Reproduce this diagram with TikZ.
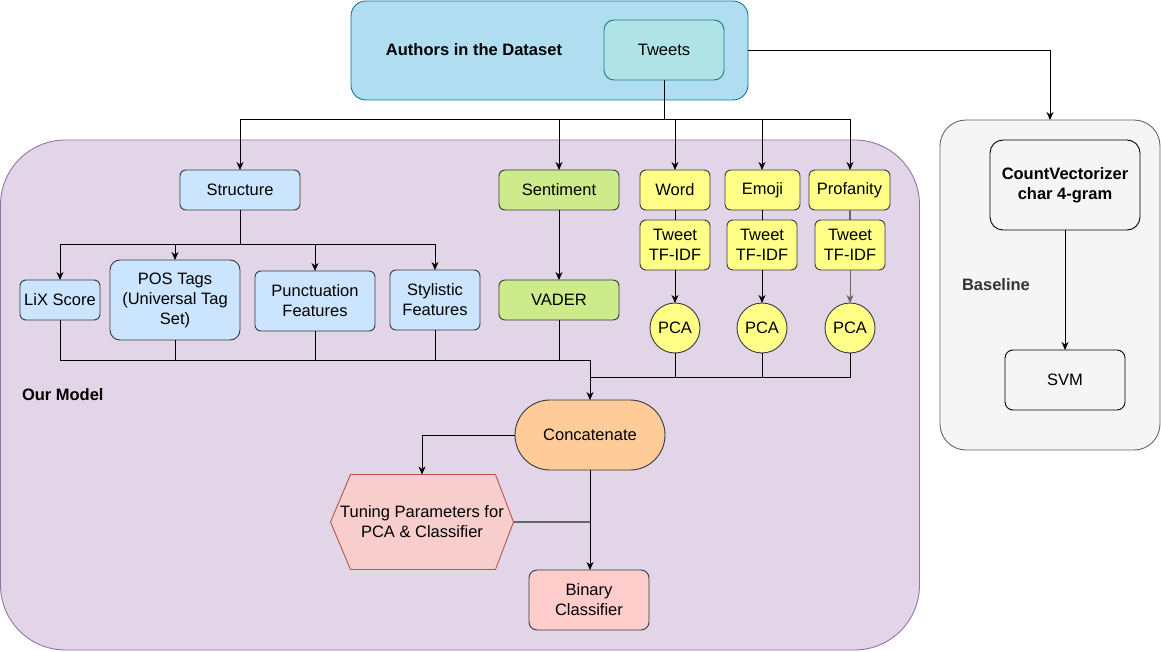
\documentclass[tikz,border=0pt]{standalone}
\usepackage{fontspec}
\setmainfont{Liberation Sans}
\usetikzlibrary{arrows.meta,calc}
\definecolor{topfill}{HTML}{B1DDF0}
\definecolor{topdraw}{HTML}{10739E}
\definecolor{twfill}{HTML}{B0E3E6}
\definecolor{twdraw}{HTML}{0E8088}
\definecolor{purfill}{HTML}{E1D5E7}
\definecolor{purdraw}{HTML}{9673A6}
\definecolor{bluefill}{HTML}{CCE5FF}
\definecolor{darkdraw}{HTML}{36393D}
\definecolor{greenfill}{HTML}{CDEB8B}
\definecolor{yelfill}{HTML}{FFFF88}
\definecolor{orfill}{HTML}{FFCC99}
\definecolor{redfill}{HTML}{F8CECC}
\definecolor{reddraw}{HTML}{B85450}
\definecolor{pinkfill}{HTML}{FFCCCC}
\definecolor{greyfill}{HTML}{F5F5F5}
\definecolor{greydraw}{HTML}{666666}
\definecolor{basetext}{HTML}{333333}
\begin{document}
\begin{tikzpicture}[x=1pt,y=-1pt,
  font=\fontsize{16.5}{20}\selectfont,
  every node/.style={inner sep=0pt,outer sep=0pt},
  box/.style={draw=darkdraw,line width=0.9pt,rounded corners=6pt,align=center},
  bluebox/.style={box,fill=bluefill},
  greenbox/.style={box,fill=greenfill},
  yelbox/.style={box,fill=yelfill},
  pcacirc/.style={circle,draw=darkdraw,line width=0.9pt,fill=yelfill,minimum size=50pt},
  conn/.style={line width=1pt,black},
  arr/.style={conn,-{Stealth[length=8pt,width=7pt,inset=2.5pt]}},
  greyconn/.style={line width=1.2pt,black!60},
]
\useasboundingbox (0,0) rectangle (1161,652);
% containers
\node[draw=topdraw,fill=topfill,line width=0.9pt,rounded corners=15pt,minimum width=397pt,minimum height=99pt] (topbox) at (549.5,50.5) {};
\node[font=\fontsize{16.5}{20}\selectfont\bfseries] (authors) at (474,50) {Authors in the Dataset};
\node[draw=twdraw,fill=twfill,line width=0.9pt,rounded corners=10pt,minimum width=120pt,minimum height=60pt] (tweets) at (664,50) {Tweets};
\node[draw=purdraw,fill=purfill,line width=0.9pt,rounded corners=65pt,minimum width=919pt,minimum height=510pt] (ourmodel) at (460,395) {};
\node[anchor=west,font=\fontsize{16.5}{20}\selectfont\bfseries] (ourlbl) at (22,395) {Our Model};
\node[draw=greydraw,fill=greyfill,line width=0.9pt,rounded corners=26pt,minimum width=220pt,minimum height=330pt] (baseline) at (1050,285) {};
\node[anchor=west,text=basetext,font=\fontsize{16.5}{20}\selectfont\bfseries] (baselbl) at (962,285) {Baseline};
\node[draw=black,line width=0.9pt,rounded corners=13pt,minimum width=150pt,minimum height=90pt,align=center,font=\fontsize{16.5}{20}\selectfont\bfseries] (cv) at (1065,185) {CountVectorizer\\char 4-gram};
\node[draw=black,line width=0.9pt,rounded corners=8pt,minimum width=120pt,minimum height=60pt] (svm) at (1065,380) {SVM};
% model nodes
\node[bluebox,minimum width=120pt,minimum height=40pt] (structure) at (240,190) {Structure};
\node[greenbox,minimum width=120pt,minimum height=40pt] (sentiment) at (559,190) {Sentiment};
\node[yelbox,minimum width=70pt,minimum height=40pt] (word) at (675,190) {Word};
\node[yelbox,minimum width=75pt,minimum height=40pt] (emoji) at (762.5,190) {Emoji};
\node[yelbox,minimum width=81pt,minimum height=40pt] (profanity) at (849.5,190) {Profanity};
\node[yelbox,minimum width=70pt,minimum height=50pt] (tf1) at (675,245) {Tweet\\TF-IDF};
\node[yelbox,minimum width=70pt,minimum height=50pt] (tf2) at (762,245) {Tweet\\TF-IDF};
\node[yelbox,minimum width=70pt,minimum height=50pt] (tf3) at (850,245) {Tweet\\TF-IDF};
\node[pcacirc] (pca1) at (675,328) {PCA};
\node[pcacirc] (pca2) at (762,328) {PCA};
\node[pcacirc] (pca3) at (850,328) {PCA};
\node[bluebox,minimum width=80pt,minimum height=40pt] (lix) at (60,300) {LiX Score};
\node[bluebox,minimum width=130pt,minimum height=80pt,rounded corners=10pt] (pos) at (175,300) {POS Tags\\(Universal Tag\\Set)};
\node[bluebox,minimum width=120pt,minimum height=60pt] (punct) at (315,301) {Punctuation\\Features};
\node[bluebox,minimum width=90pt,minimum height=60pt] (styl) at (435,300) {Stylistic\\Features};
\node[greenbox,minimum width=120pt,minimum height=40pt] (vader) at (559,300) {VADER};
\node[draw=darkdraw,fill=orfill,line width=0.9pt,rounded corners=35pt,minimum width=150pt,minimum height=70pt] (concat) at (590,435) {Concatenate};
\node[minimum width=183pt,minimum height=95pt,align=center] (tune) at (422,522) {};
\fill[redfill,draw=reddraw,line width=0.9pt] (tune.west) -- ($(tune.north west)+(20,0)$) -- ($(tune.north east)+(-18,0)$) -- (tune.east) -- ($(tune.south east)+(-18,0)$) -- ($(tune.south west)+(20,0)$) -- cycle;
\node[align=center] (tunelbl) at (422,522) {Tuning Parameters for\\PCA \& Classifier};
\node[draw=darkdraw,fill=pinkfill,line width=0.9pt,rounded corners=8pt,minimum width=120pt,minimum height=60pt,align=center] (binary) at (589,600) {Binary\\Classifier};
% connectors
\coordinate (bus1) at (664,120);
\draw[conn] (tweets.south) -- (bus1);
\draw[arr] (bus1) -| (structure.north);
\draw[arr] (bus1) -| (sentiment.north);
\draw[arr] (bus1) -| (word.north);
\draw[arr] (bus1) -| (tf2.north |- emoji.north);
\draw[arr] (bus1) -| (tf3.north |- profanity.north);
\draw[arr] (topbox.east) -| (baseline.north);
\draw[arr] (cv.south) -- (svm.north);
\coordinate (sb) at (240,245);
\draw[conn] (structure.south) -- (sb);
\draw[arr] (sb) -| (lix.north);
\draw[arr] (sb) -| (pos.north);
\draw[arr] (sb) -| (punct.north);
\draw[arr] (sb) -| (styl.north);
\draw[arr] (sentiment.south) -- (vader.north);
\draw[conn] (word.south) -- (tf1.north);
\draw[conn] (emoji.south -| tf2.north) -- (tf2.north);
\draw[greyconn] (profanity.south -| tf3.north) -- (tf3.north);
\draw[arr] (tf1.south) -- (pca1.north);
\draw[arr] (tf2.south) -- (pca2.north);
\draw[arr,black!60] (tf3.south) -- (pca3.north);
\coordinate (m1) at (590,360);
\coordinate (m2) at (590,377);
\draw[conn] (lix.south) |- (m1);
\draw[conn] (pos.south) |- (m1);
\draw[conn] (punct.south) |- (m1);
\draw[conn] (styl.south) |- (m1);
\draw[conn] (vader.south) |- (m1);
\draw[conn] (pca1.south) |- (m2);
\draw[conn] (pca2.south) |- (m2);
\draw[conn] (pca3.south) |- (m2);
\draw[arr] (m1) -- (concat.north);
\draw[arr] (concat.west) -| (tune.north);
\draw[arr] (concat.south) -- (binary.north -| concat.south);
\coordinate (m3) at (590,522);
\draw[greyconn] (tune.east) -- (m3);
\end{tikzpicture}
\end{document}
